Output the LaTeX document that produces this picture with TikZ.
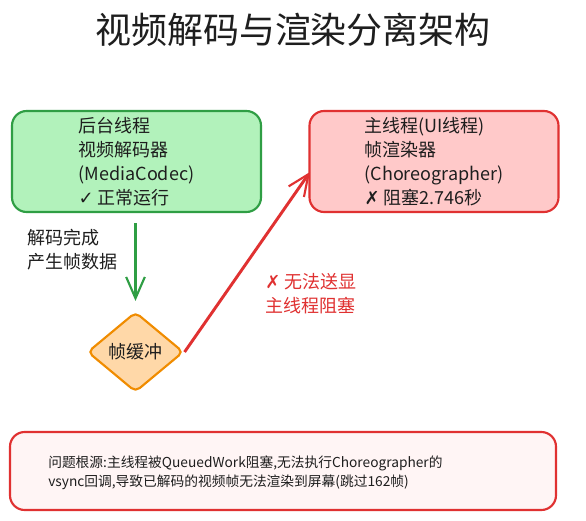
\documentclass[tikz,border=0pt]{standalone}
\usepackage{fontspec}
\setmainfont{Noto Sans CJK SC}
\newfontfamily\symfont{DejaVu Sans}
\usetikzlibrary{shapes.geometric,arrows.meta}
\definecolor{ink}{HTML}{1E1E1E}
\definecolor{gfill}{HTML}{B2F2BB}
\definecolor{gline}{HTML}{2F9E44}
\definecolor{rfill}{HTML}{FFC9C9}
\definecolor{rline}{HTML}{E03131}
\definecolor{ofill}{HTML}{FFD8A8}
\definecolor{oline}{HTML}{F08C00}
\definecolor{pfill}{HTML}{FFF5F5}
\tikzset{
  box/.style={draw, line width=1.6pt, rounded corners=11pt, minimum width=186.75pt, minimum height=75.75pt, align=left, text=ink, font=\fontsize{13.5}{18}\selectfont, inner sep=0pt},
  lbl/.style={anchor=west, align=left, font=\fontsize{13.5}{18}\selectfont, inner sep=0pt},
  conn/.style={line width=1.6pt, -{Straight Barb[length=16pt, width=14pt, line width=1.6pt]}, shorten <=7.5pt, shorten >=7.5pt},
}
\begin{document}
\begin{tikzpicture}[x=0.75pt, y=-0.75pt]
\useasboundingbox[fill=white] (0,0) rectangle (586,521);
\node[text=ink, font=\fontsize{27}{32}\selectfont] (title) at (293,30) {视频解码与渲染分离架构};
\node[box, fill=gfill, draw=gline] (dec) at (136.5,161.5) {后台线程\\视频解码器\\(MediaCodec)\\{\symfont ✓} 正常运行};
\node[box, fill=rfill, draw=rline] (ren) at (434,161.5) {主线程(UI线程)\\帧渲染器\\(Choreographer)\\{\symfont ✗} 阻塞2.746秒};
\node[diamond, draw=oline, fill=ofill, line width=1.6pt, rounded corners=4pt, minimum width=72pt, minimum height=60pt, inner sep=0pt, text=ink, font=\fontsize{13.5}{16}\selectfont] (buf) at (135.5,352) {帧缓冲};
\draw[conn, gline] (dec.south -| buf.north) -- (buf.north);
\coordinate (rentgt) at (310,172);
\draw[conn, rline, line width=2.2pt, shorten <=0pt, shorten >=0pt] (buf.east) -- (rentgt);
\node[lbl, text=ink] (declbl) at (27,250) {解码完成\\产生帧数据};
\node[lbl, text=rline] (renlbl) at (265,293.5) {{\symfont ✗} 无法送显\\主线程阻塞};
\node[draw=rline, fill=pfill, line width=1.6pt, rounded corners=11pt, minimum width=409.5pt, minimum height=58.5pt, inner sep=0pt] (cause) at (283,471) {};
\node[anchor=west, align=left, text=ink, font=\fontsize{10.3}{14.25}\selectfont, inner sep=0pt] (causetxt) at (48,472.5) {问题根源:主线程被QueuedWork阻塞,无法执行Choreographer的\\vsync回调,导致已解码的视频帧无法渲染到屏幕(跳过162帧)};
\end{tikzpicture}
\end{document}
